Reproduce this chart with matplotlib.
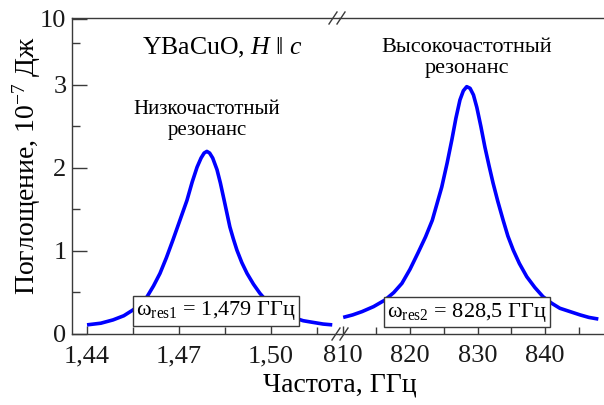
import numpy as np
import matplotlib
matplotlib.use("Agg")
from matplotlib import pyplot as plt
from matplotlib.ticker import FixedLocator

plt.rcParams['font.family'] = ['Liberation Serif', 'DejaVu Serif']
plt.rcParams['mathtext.fontset'] = 'custom'
plt.rcParams['mathtext.rm'] = 'Liberation Serif'
plt.rcParams['mathtext.it'] = 'Liberation Serif:italic'

# низкочастотный резонанс, ГГц / 10^-7 Дж
f_low = [1.4400, 1.4445, 1.4485, 1.4520, 1.4550, 1.4575, 1.4596, 1.4617, 1.4638,
         1.4659, 1.4680, 1.4703, 1.4726, 1.4743, 1.4759, 1.4772, 1.4782, 1.4791,
         1.4800, 1.4810, 1.4824, 1.4835, 1.4848, 1.4866, 1.4877, 1.4889, 1.4905,
         1.4922, 1.4943, 1.4964, 1.4985, 1.5006, 1.5040, 1.5072, 1.5105, 1.5137,
         1.5170, 1.5200]
a_low = [0.11, 0.13, 0.17, 0.22, 0.29, 0.36, 0.45, 0.58, 0.73,
         0.92, 1.13, 1.37, 1.61, 1.83, 2.01, 2.12, 2.18, 2.20,
         2.18, 2.12, 1.98, 1.82, 1.60, 1.29, 1.15, 1.01, 0.86,
         0.73, 0.60, 0.49, 0.40, 0.33, 0.25, 0.20, 0.16, 0.14,
         0.12, 0.11]

# высокочастотный резонанс
f_high = [810.1, 811.5, 812.9, 814.6, 816.3, 817.6, 818.8, 820.0, 821.2, 822.3,
          823.3, 824.0, 824.7, 825.5, 826.2, 826.8, 827.4, 827.9, 828.4, 828.9,
          829.4, 829.9, 830.5, 831.1, 831.7, 832.3, 833.0, 833.8, 834.5, 835.3,
          836.2, 837.3, 838.5, 839.7, 841.0, 842.2, 843.7, 845.2, 846.5, 847.9]
a_high = [0.20, 0.23, 0.27, 0.33, 0.41, 0.50, 0.61, 0.78, 0.98, 1.17,
          1.37, 1.57, 1.77, 2.06, 2.34, 2.60, 2.82, 2.93, 2.98, 2.96,
          2.88, 2.73, 2.50, 2.25, 2.03, 1.82, 1.60, 1.37, 1.18, 1.01,
          0.85, 0.69, 0.56, 0.45, 0.37, 0.31, 0.27, 0.23, 0.20, 0.18]

yticks = [0, 1, 2, 3, 3.8]
ylabels = ['0', '1', '2', '3', '10']
xt_low = [1.44, 1.47, 1.50]
xt_low_lab = ['1,44', '1,47', '1,50']
xt_high = [810, 820, 830, 840]

W, H = 604, 405
fig = plt.figure(figsize=(6.04, 4.05), dpi=100)

def box(x0, x1, y0, y1):
    return [x0 / W, 1 - y1 / H, (x1 - x0) / W, (y1 - y0) / H]

ax1 = fig.add_axes(box(72, 339, 18, 334))
ax2 = fig.add_axes(box(339, 604, 18, 334))

spc = '#3a3a3a'
for ax in (ax1, ax2):
    ax.set_ylim(0, 3.807)
    for s in ax.spines.values():
        s.set_color(spc)
        s.set_linewidth(1.0)
    ax.spines['right'].set_visible(False)
    ax.tick_params(direction='in', which='both', colors=spc, labelcolor='#1a1a1a',
                   labelsize=19, width=1.0)
    ax.tick_params(axis='x', which='major', length=6, pad=8)
    ax.tick_params(axis='x', which='minor', length=5)

ax1.plot(f_low, a_low, color='#0000ff', lw=2.6, solid_capstyle='butt')
ax2.plot(f_high, a_high, color='#0000ff', lw=2.6, solid_capstyle='butt')

ax1.set_xlim(1.4351, 1.5222)
ax1.set_xticks(xt_low)
ax1.set_xticklabels(xt_low_lab)
ax1.xaxis.set_minor_locator(FixedLocator([1.455, 1.485, 1.515]))
ax1.set_yticks(yticks)
ax1.set_yticklabels(ylabels)
ax1.yaxis.set_minor_locator(FixedLocator([0.5, 1.5, 2.5, 3.5]))
ax1.tick_params(axis='y', which='major', length=11, pad=4)
ax1.tick_params(axis='y', which='minor', length=6)

ax2.set_xlim(809.48, 848.74)
ax2.set_xticks(xt_high)
ax2.set_xticklabels([str(v) for v in xt_high])
ax2.xaxis.set_minor_locator(FixedLocator([815, 825, 835, 845]))
ax2.spines['left'].set_visible(False)
ax2.set_yticks([])

fig.text(27 / W, 1 - 165 / H, 'Поглощение, 10$^{-7}$ Дж', fontsize=20,
         rotation=90, ha='center', va='center')
fig.text(340 / W, 1 - 385 / H, 'Частота, ГГц', fontsize=20, ha='center', va='center')

# подписи
fig.text(222 / W, 1 - 48 / H, 'YBaCuO, $\\mathit{H}$ ‖ $\\mathit{c}$', fontsize=18.5,
         ha='center', va='center')
fig.text(207 / W, 1 - 120 / H, 'Низкочастотный\nрезонанс', fontsize=15,
         ha='center', va='center', linespacing=1.1)
fig.text(467 / W, 1 - 58 / H, 'Высокочастотный\nрезонанс', fontsize=16,
         ha='center', va='center', linespacing=1.1)

bbox = dict(boxstyle='square,pad=0.15', fc='white', ec=spc, lw=1.0)
fig.text(216 / W, 1 - 311 / H, 'ω$_{\\rm res1}$ = 1,479 ГГц', fontsize=16,
         ha='center', va='center', bbox=bbox)
fig.text(467 / W, 1 - 312 / H, 'ω$_{\\rm res2}$ = 828,5 ГГц', fontsize=16,
         ha='center', va='center', bbox=bbox)

# знаки разрыва оси
for xc, yc in ((340, 334), (337, 18)):
    for dx in (-4, 4):
        fig.add_artist(plt.Line2D([(xc + dx - 4) / W, (xc + dx + 4) / W],
                                  [1 - (yc + 6) / H, 1 - (yc - 6) / H],
                                  color=spc, lw=1.0))

fig.savefig('out.png', dpi=100)
